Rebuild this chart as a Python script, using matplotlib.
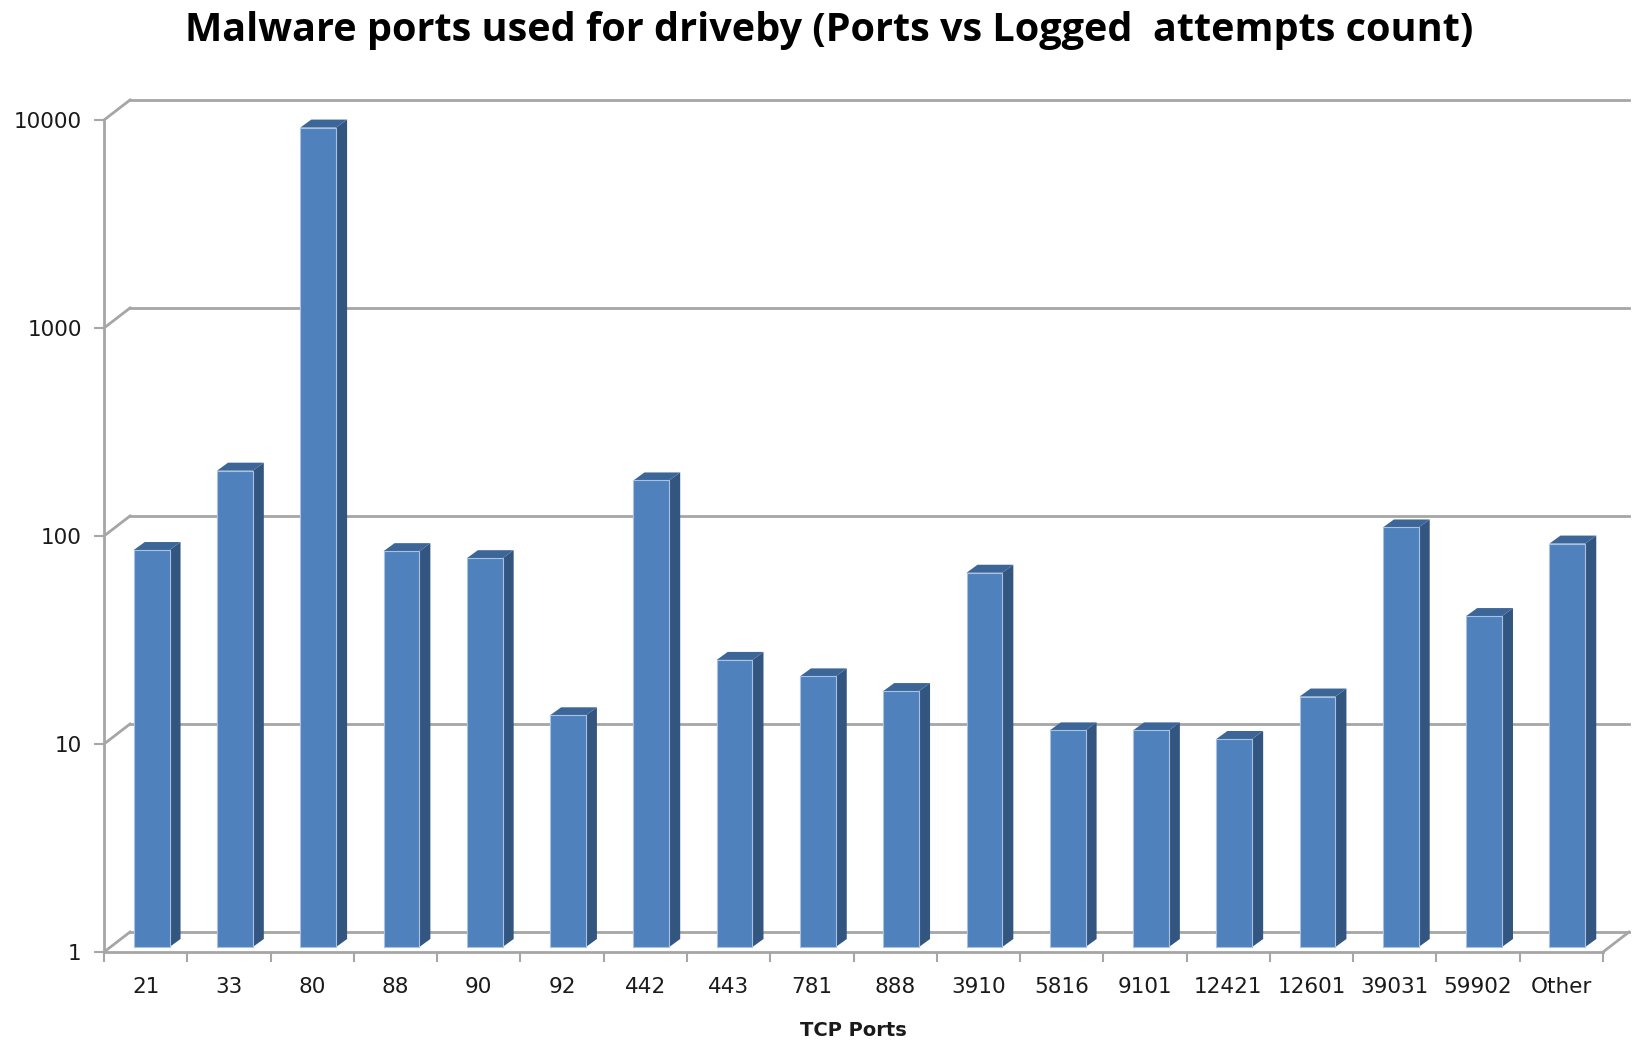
import numpy as np
import matplotlib.pyplot as plt
from matplotlib.patches import Polygon
from matplotlib.lines import Line2D
from matplotlib.transforms import IdentityTransform, ScaledTranslation

# data
ports = ['21', '33', '80', '88', '90', '92', '442', '443', '781', '888',
         '3910', '5816', '9101', '12421', '12601', '39031', '59902', 'Other']
attempts = [81, 195, 8700, 80, 74, 13, 175, 24, 20, 17,
            63, 11, 11, 10, 16, 104, 39, 87]
decades = [1, 10, 100, 1000, 10000]

W, H = 1632, 1041
fig = plt.figure(figsize=(W / 100, H / 100), dpi=100)
ax = fig.add_axes([104 / W, 1 - 952 / H, (1603 - 104) / W, (952 - 120) / H])
ax.set_facecolor('none')
ax.set_yscale('log')
ax.set_ylim(1, 10000)
ax.set_xlim(-0.5, len(ports) - 0.5)

grid_c = '#A6A6A6'
wall_dx, wall_dy = 26, 20     # back wall offset (pixels)
bar_dx, bar_dy = 6, 5         # bar front face offset from the front plane
dep_dx, dep_dy = 11, 8        # bar depth
width = 0.43
ident = IdentityTransform()

# back wall gridlines and left wall diagonals
for d in decades:
    x0, y0 = ax.transData.transform((-0.5, d))
    x1, _ = ax.transData.transform((len(ports) - 0.5, d))
    ax.add_line(Line2D([x0 + wall_dx, x1 + wall_dx], [y0 + wall_dy, y0 + wall_dy],
                       transform=ident, color=grid_c, lw=2, clip_on=False, zorder=0))
    ax.add_line(Line2D([x0, x0 + wall_dx], [y0, y0 + wall_dy],
                       transform=ident, color=grid_c, lw=2, clip_on=False, zorder=0))
# right floor edge
x0, y0 = ax.transData.transform((len(ports) - 0.5, 1))
ax.add_line(Line2D([x0, x0 + wall_dx], [y0, y0 + wall_dy],
                   transform=ident, color=grid_c, lw=2, clip_on=False, zorder=0))

# bars: front faces
x = np.arange(len(ports))
shift = ax.transData + ScaledTranslation(bar_dx / 100, bar_dy / 100, fig.dpi_scale_trans)
bars = ax.bar(x, np.array(attempts) - 1, bottom=1, width=width, color='#4F81BD',
              edgecolor='#A9C2E2', linewidth=0.8, transform=shift, clip_on=False, zorder=3)

# side and top faces
for xi, v in zip(x, attempts):
    lx, by = ax.transData.transform((xi - width / 2, 1))
    rx, ty = ax.transData.transform((xi + width / 2, v))
    lx += bar_dx; rx += bar_dx; by += bar_dy; ty += bar_dy
    side = [(rx, by), (rx, ty), (rx + dep_dx, ty + dep_dy), (rx + dep_dx, by + dep_dy)]
    top = [(lx, ty), (rx, ty), (rx + dep_dx, ty + dep_dy), (lx + dep_dx, ty + dep_dy)]
    ax.add_patch(Polygon(side, closed=True, transform=ident, facecolor='#335681',
                         edgecolor='none', clip_on=False, zorder=2))
    ax.add_patch(Polygon(top, closed=True, transform=ident, facecolor='#3C6698',
                         edgecolor='none', clip_on=False, zorder=2))

# axes styling
for s in ['top', 'right']:
    ax.spines[s].set_visible(False)
for s in ['left', 'bottom']:
    ax.spines[s].set_color(grid_c)
    ax.spines[s].set_linewidth(2)
    ax.spines[s].set_zorder(1)

ax.set_yticks(decades)
ax.set_yticklabels([str(d) for d in decades])
ax.yaxis.set_minor_locator(plt.NullLocator())
ax.tick_params(axis='y', which='major', length=7, width=1.5, color=grid_c,
               labelsize=15.5, pad=9, labelcolor='#1a1a1a')

ax.set_xticks(x)
ax.set_xticklabels(ports)
ax.set_xticks(np.arange(len(ports) + 1) - 0.5, minor=True)
ax.tick_params(axis='x', which='major', length=0, labelsize=15.5, pad=18,
               labelcolor='#1a1a1a')
ax.tick_params(axis='x', which='minor', length=7, width=1.5, color=grid_c)

ax.set_xlabel('TCP Ports', fontsize=14, fontweight='bold', labelpad=17,
              color='#1a1a1a')

fig.text(829 / W, 1 - 30 / H,
         'Malware ports used for driveby (Ports vs Logged  attempts count)',
         ha='center', va='center', fontsize=28.5, fontweight='bold',
         family='Open Sans')

fig.savefig('out.png', dpi=100)
